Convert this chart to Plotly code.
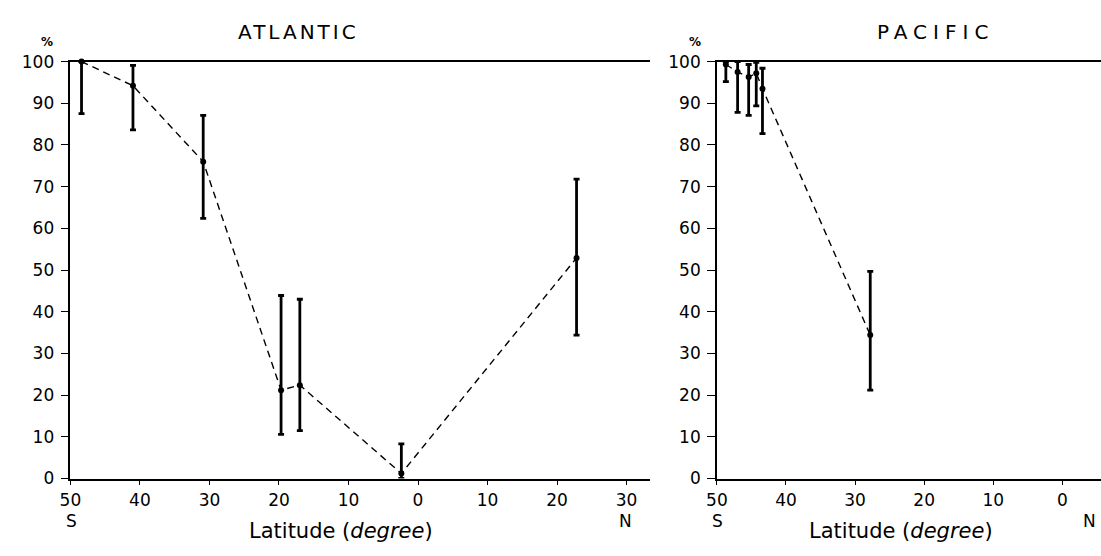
import plotly.graph_objects as go

# ---- data ----
atl_lat = [48.4, 41.0, 30.9, 19.7, 17.0, 2.4, -22.8]      # positive = S, negative = N
atl_val = [100, 94.2, 76.0, 21.2, 22.4, 1.2, 52.9]
atl_hi = [100, 99.1, 87.1, 43.9, 43.0, 8.3, 71.8]
atl_lo = [87.5, 83.6, 62.4, 10.6, 11.5, 0.0, 34.4]

pac_lat = [48.7, 47.0, 45.4, 44.3, 43.4, 27.8]
pac_val = [99.3, 97.5, 96.3, 97.2, 93.5, 34.4]
pac_hi = [100, 100, 99.3, 99.8, 98.4, 49.7]
pac_lo = [95.2, 87.8, 87.1, 89.4, 82.7, 21.2]

y_ticks = [0, 10, 20, 30, 40, 50, 60, 70, 80, 90, 100]
atl_xticks = [50, 40, 30, 20, 10, 0, -10, -20, -30]
atl_xtext = ["50", "40", "30", "20", "10", "0", "10", "20", "30"]
pac_xticks = [50, 40, 30, 20, 10, 0]
pac_xtext = ["50", "40", "30", "20", "10", "0"]

W, H = 1101, 556
FONT = "DejaVu Sans"


def px(x):
    return x / W


def py(y):
    return 1 - y / H


fig = go.Figure()


def add_series(lat, val, hi, lo, xa, ya):
    fig.add_trace(go.Scatter(
        x=lat, y=val, xaxis=xa, yaxis=ya, mode="lines+markers",
        line=dict(color="black", width=1.4, dash="7px,5px"),
        marker=dict(color="black", size=6),
        error_y=dict(type="data", symmetric=False,
                     array=[h - v for h, v in zip(hi, val)],
                     arrayminus=[v - l for v, l in zip(val, lo)],
                     color="black", thickness=2.8, width=3),
        cliponaxis=False, showlegend=False, hoverinfo="skip"))


add_series(atl_lat, atl_val, atl_hi, atl_lo, "x", "y")
add_series(pac_lat, pac_val, pac_hi, pac_lo, "x2", "y2")

ydom = [py(486), py(53.5)]
axis_common = dict(showgrid=False, zeroline=False, showline=True, linecolor="black",
                   linewidth=1.5, ticks="outside", tickcolor="black",
                   tickfont=dict(family=FONT, size=17, color="black"))

fig.update_layout(
    width=W, height=H, margin=dict(l=0, r=0, t=0, b=0),
    paper_bgcolor="white", plot_bgcolor="white",
    xaxis=dict(domain=[px(60), px(645)], range=[50, -33.3], tickvals=atl_xticks,
               ticktext=atl_xtext, ticklen=5, tickwidth=1.2, mirror=True,
               anchor="y", **axis_common),
    yaxis=dict(domain=ydom, range=[0, 100], tickvals=y_ticks, ticklen=8,
               tickwidth=1.2, ticklabelstandoff=3, anchor="x", **axis_common),
    xaxis2=dict(domain=[px(713), 1.0], range=[50, -5.6], tickvals=pac_xticks,
                ticktext=pac_xtext, ticklen=5, tickwidth=1.2, mirror=True,
                anchor="y2", **axis_common),
    yaxis2=dict(domain=ydom, range=[0, 100], tickvals=y_ticks, ticklen=8,
                tickwidth=1.2, ticklabelstandoff=3, anchor="x2", **axis_common),
)

ann = []


def text(x, y, t, size, **kw):
    ann.append(dict(x=px(x), y=py(y), xref="paper", yref="paper", text=t,
                    showarrow=False, xanchor="center", yanchor="middle",
                    font=dict(family=FONT, size=size, color="black"), **kw))


text(290, 23, '<span style="letter-spacing:3px">ATLANTIC</span>', 20)
text(934, 23, '<span style="letter-spacing:6px">PACIFIC</span>', 20)
text(36, 33, "<b>%</b>", 12)
text(691, 33, "<b>%</b>", 12)
text(61, 530, "S", 17)
text(621, 530, "N", 17)
text(714, 530, "S", 17)
text(1089, 530, "N", 17)
text(333, 540, "Latitude (<i>degree</i>)", 21)
text(899, 540, "Latitude (<i>degree</i>)", 21)

fig.update_layout(annotations=ann)

fig.write_html("out.html", config={"displayModeBar": False},
               post_script="document.body.style.margin='0';document.body.style.overflow='hidden';")
